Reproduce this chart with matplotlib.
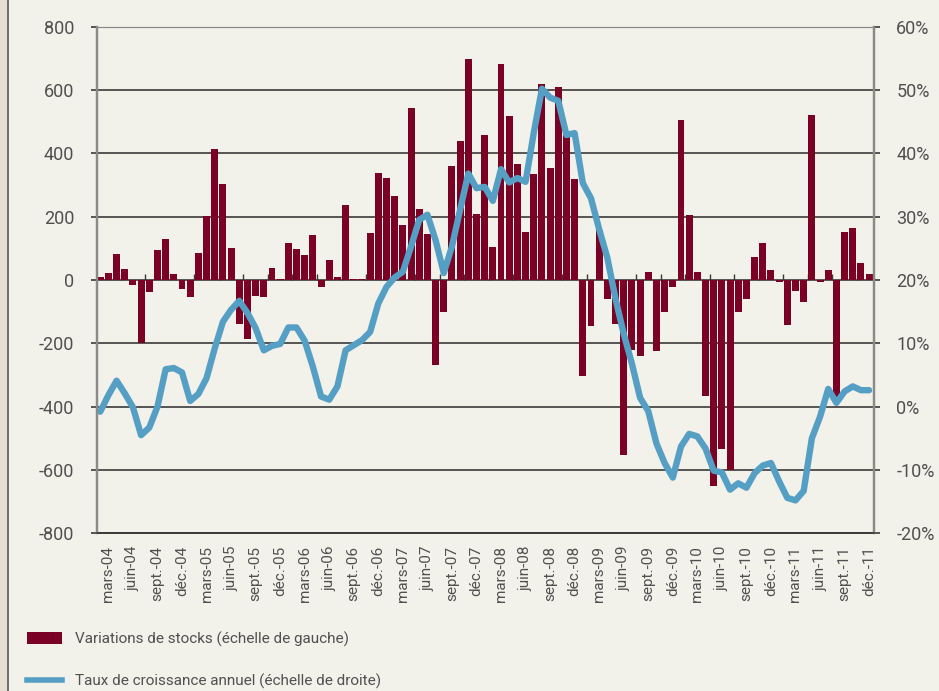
import numpy as np
import matplotlib.pyplot as plt
from matplotlib.patches import Patch, Rectangle
from matplotlib.lines import Line2D

plt.rcParams['font.family'] = ['Roboto', 'DejaVu Sans']
plt.rcParams['axes.unicode_minus'] = False

# monthly data, févr.-04 .. déc.-11
# stock changes (left scale)
stock_changes = [
    10, 22, 82, 35, -17, -198, -39, 95, 129, 19, -29, -55,
    85, 201, 413, 302, 101, -140, -187, -52, -55, 38, 3, 117,
    98, 79, 142, -23, 63, 9, 236, 3, 3, 148, 337, 321,
    264, 174, 544, 224, 145, -268, -100, 359, 438, 699, 208, 457,
    103, 683, 519, 365, 152, 334, 620, 353, 611, 457, 318, -303,
    -146, 158, -61, -140, -552, -222, -240, 25, -225, -102, -23, 506,
    205, 25, -366, -650, -534, -599, -102, -61, 73, 117, 32, -7,
    -143, -36, -71, 522, -7, 32, -389, 152, 164, 54, 19,
]
# annual growth rate in % (right scale)
growth_rate = [
    -0.8, 1.8, 4.1, 2.1, -0.1, -4.5, -3.3, 0.0, 5.9, 6.1, 5.4, 0.9,
    2.0, 4.5, 9.2, 13.4, 15.3, 16.7, 14.8, 12.4, 8.9, 9.6, 9.9, 12.5,
    12.5, 10.4, 6.3, 1.6, 1.1, 3.2, 8.9, 9.7, 10.5, 11.8, 16.3, 18.9,
    20.4, 21.3, 25.3, 29.5, 30.3, 26.3, 21.1, 25.3, 31.1, 36.8, 34.5, 34.7,
    32.5, 37.5, 35.4, 36.1, 35.5, 43.2, 50.2, 48.8, 48.3, 42.9, 43.2, 35.3,
    32.9, 28.0, 23.5, 17.0, 11.5, 6.8, 1.4, -0.7, -5.8, -8.9, -11.2, -6.3,
    -4.3, -4.7, -6.6, -10.1, -10.4, -13.1, -12.1, -12.8, -10.5, -9.3, -8.9, -11.8,
    -14.4, -14.8, -13.3, -5.0, -1.6, 2.8, 0.6, 2.4, 3.2, 2.6, 2.6,
]
month_names = ['janv.', 'févr.', 'mars', 'avr.', 'mai', 'juin',
               'juil.', 'août', 'sept.', 'oct.', 'nov.', 'déc.']

bar_color = '#7b0025'
line_color = '#569fc4'
text_color = '#505050'
bg = '#f2f1ea'

n = len(stock_changes)
x = np.arange(n)
tick_pos = [i for i in x if (1 + i) % 12 in (2, 5, 8, 11)]
tick_lab = ['%s-%02d' % (month_names[(1 + i) % 12], (4 + (1 + i) // 12) % 100) for i in tick_pos]

fig = plt.figure(figsize=(9.39, 6.91), dpi=100, facecolor=bg)
ax = fig.add_axes([0.1028, 0.2282, 0.8280, 0.7332], facecolor=bg)
ax2 = ax.twinx()

ax.bar(x, stock_changes, width=0.85, color=bar_color, zorder=2)
ax2.plot(x, growth_rate, color=line_color, lw=4.6, solid_joinstyle='round', solid_capstyle='round')

ax.set_xlim(-0.45, n - 0.4)
ax.set_ylim(-800, 800)
ax.set_yticks(np.arange(-800, 801, 200))
ax2.set_ylim(-20, 60)
ax2.set_yticks(np.arange(-20, 61, 10))
ax2.set_yticklabels(['%d%%' % v for v in np.arange(-20, 61, 10)])

ax.set_axisbelow(True)
ax.yaxis.grid(True, color='#3a3a3a', lw=1.2)

ax.set_xticks(tick_pos)
ax.set_xticklabels(tick_lab, rotation=90, fontsize=11, color=text_color)
ax.tick_params(axis='x', length=0, pad=9)
ax.tick_params(axis='y', length=4, width=1.2, color='#3a3a3a', labelsize=13, labelcolor=text_color, pad=12)
ax2.tick_params(axis='y', length=4, width=1.2, color='#3a3a3a', labelsize=13, labelcolor=text_color, pad=12)

# small ticks on the zero line, every quarter
zero_axis = ax.secondary_xaxis(0.5)
zero_axis.set_xticks(np.array(tick_pos[:-1]) + 1.5)
zero_axis.set_xticklabels([])
zero_axis.tick_params(length=4, width=1, color='#3a3a3a', direction='out')
zero_axis.spines['bottom'].set_visible(False)
zero_axis.spines['top'].set_visible(False)

for a in (ax, ax2):
    a.spines['left'].set_color('#8a8a8a')
    a.spines['right'].set_color('#8a8a8a')
    a.spines['left'].set_linewidth(1.6)
    a.spines['right'].set_linewidth(1.6)
    a.spines['top'].set_color('#8a8a8a')
    a.spines['bottom'].set_color('#3a3a3a')
    a.spines['bottom'].set_linewidth(1.2)

handles = [Patch(facecolor=bar_color, edgecolor='none'),
           Line2D([], [], color=line_color, lw=4)]
labels = ['Variations de stocks (échelle de gauche)',
          'Taux de croissance annuel (échelle de droite)']
fig.legend(handles, labels, loc='upper left', bbox_to_anchor=(0.0288, 0.086),
           frameon=False, fontsize=11, labelcolor=text_color, handlelength=2.3,
           handleheight=0.8, handletextpad=0.85, labelspacing=1.75,
           borderpad=0, borderaxespad=0)

# page border on the left
fig.patches.append(Rectangle((0, 0), 7 / 939, 1, transform=fig.transFigure,
                             facecolor='#e6dfcf', edgecolor='none'))
fig.lines.append(Line2D([7.5 / 939, 7.5 / 939], [0, 1], transform=fig.transFigure,
                        color='#555555', lw=1.2))

fig.savefig('out.png', dpi=100, facecolor=bg)
